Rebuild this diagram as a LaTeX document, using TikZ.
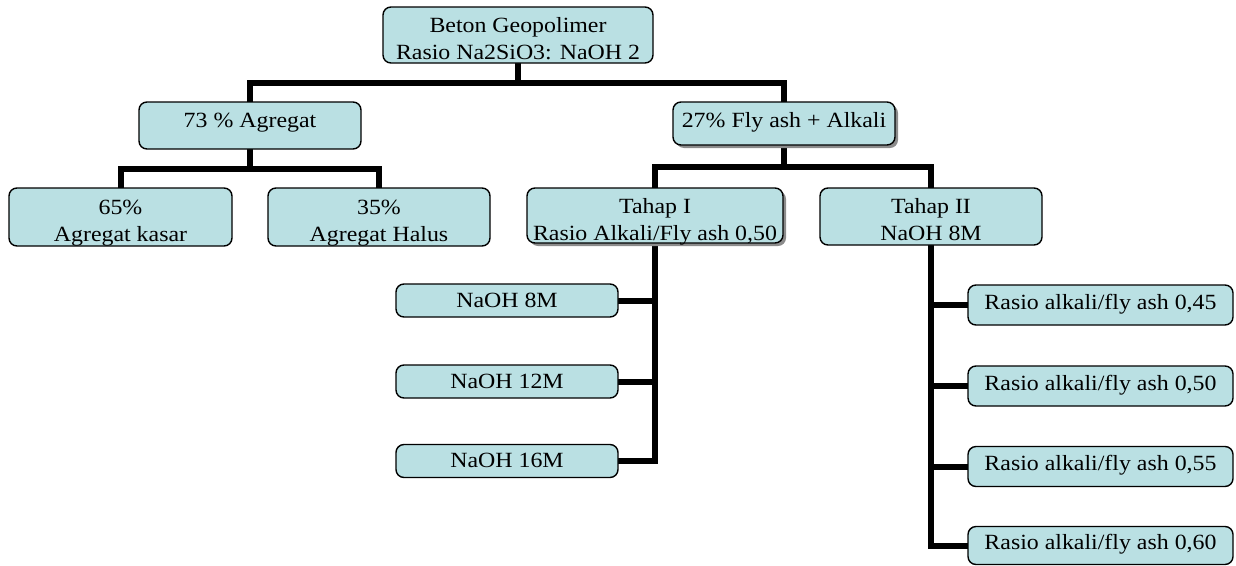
\documentclass[tikz,border=0pt]{standalone}
\usepackage{fontspec}
\setmainfont{Liberation Serif}[FakeStretch=1.1]
\usetikzlibrary{shadows}
\pgfdeclarelayer{background}
\pgfsetlayers{background,main}
\definecolor{boxfill}{RGB}{186,224,227}
\newcommand\boxtext[2]{\raisebox{#1}[0pt][0pt]{\begin{tabular}[t]{@{}c@{}}#2\end{tabular}}}
\begin{document}
\begin{tikzpicture}[x=1pt,y=-1pt,
  box/.style={draw=black, line width=1.4pt, fill=boxfill, rounded corners=8pt, inner sep=0pt,
    font=\fontsize{21.7}{27.7}\selectfont},
  shad/.style={drop shadow={shadow xshift=3pt,shadow yshift=-3pt,fill=black!45,opacity=1}},
  conn/.style={line width=6pt, line join=miter, line cap=rect}]
\useasboundingbox (0,0) rectangle (1236,565);

\node[box, minimum width=270pt, minimum height=56pt] (top) at (518,35)
  {\boxtext{3pt}{Beton Geopolimer\\Rasio Na2SiO3: NaOH 2}};
\node[box, minimum width=222pt, minimum height=47pt] (agg) at (250,125.5)
  {\boxtext{-1.8pt}{73 \% Agregat}};
\node[box, shad, minimum width=222pt, minimum height=43pt] (fly) at (784,123.5)
  {\boxtext{-3.8pt}{27\% Fly ash + Alkali}};
\node[box, minimum width=223pt, minimum height=58pt] (kasar) at (120.5,217)
  {\boxtext{3pt}{65\%\\Agregat kasar}};
\node[box, minimum width=222pt, minimum height=58pt] (halus) at (379,217)
  {\boxtext{3pt}{35\%\\Agregat Halus}};
\node[box, shad, minimum width=256pt, minimum height=55pt] (t1) at (655,215.5)
  {\boxtext{2.5pt}{Tahap I\\Rasio Alkali/Fly ash 0,50}};
\node[box, minimum width=222pt, minimum height=57pt] (t2) at (931,216.5)
  {\boxtext{3.5pt}{Tahap II\\NaOH 8M}};

\node[box, minimum width=222pt, minimum height=33pt] (n8) at (507,300.5)
  {\boxtext{-6.5pt}{NaOH 8M}};
\node[box, minimum width=222pt, minimum height=33pt] (n12) at (507,381.5)
  {\boxtext{-6.5pt}{NaOH 12M}};
\node[box, minimum width=222pt, minimum height=33pt] (n16) at (507,461)
  {\boxtext{-6.5pt}{NaOH 16M}};

\node[box, minimum width=265pt, minimum height=40pt] (r45) at (1100.5,305)
  {\boxtext{-4.3pt}{Rasio alkali/fly ash 0,45}};
\node[box, minimum width=265pt, minimum height=40pt] (r50) at (1100.5,386)
  {\boxtext{-4.3pt}{Rasio alkali/fly ash 0,50}};
\node[box, minimum width=265pt, minimum height=40pt] (r55) at (1100.5,466.5)
  {\boxtext{-4.3pt}{Rasio alkali/fly ash 0,55}};
\node[box, minimum width=265pt, minimum height=38pt] (r60) at (1100.5,545.5)
  {\boxtext{-4.3pt}{Rasio alkali/fly ash 0,60}};

\begin{pgfonlayer}{background}
\draw[conn] (top.south) -- (top.south |- 0,83);
\draw[conn] (agg.north) -- (agg.north |- 0,83) -- (fly.north |- 0,83) -- (fly.north);
\draw[conn] (agg.south) -- (agg.south |- 0,169);
\draw[conn] (kasar.north) -- (kasar.north |- 0,169) -- (halus.north |- 0,169) -- (halus.north);
\draw[conn] (fly.south) -- (fly.south |- 0,167);
\draw[conn] (t1.north) -- (t1.north |- 0,167) -- (t2.north |- 0,167) -- (t2.north);
\draw[conn] (t1.south) -- (t1.south |- n16.east) -- (n16.east);
\draw[conn] (n8.east) -- (n8.east -| t1.south);
\draw[conn] (n12.east) -- (n12.east -| t1.south);
\draw[conn] (t2.south) -- (t2.south |- r60.west) -- (r60.west);
\draw[conn] (r45.west) -- (r45.west -| t2.south);
\draw[conn] (r50.west) -- (r50.west -| t2.south);
\draw[conn] (r55.west) -- (r55.west -| t2.south);
\end{pgfonlayer}
\end{tikzpicture}
\end{document}
